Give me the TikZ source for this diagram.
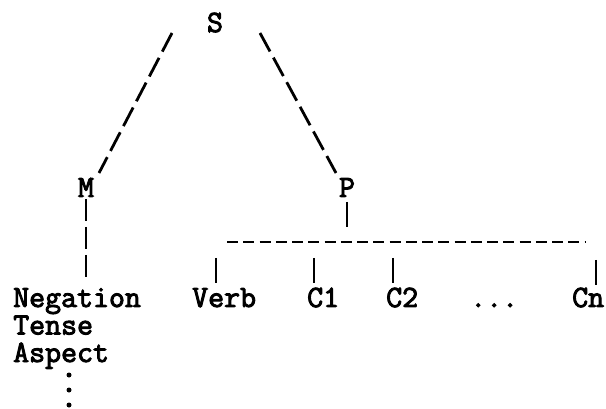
\documentclass[tikz,border=0pt]{standalone}
\usepackage{fontspec}
\setmonofont{Latin Modern Mono}[FakeBold=3]
\begin{document}
\begin{tikzpicture}[x=1pt,y=-1pt,
  lbl/.style={inner sep=0pt,font=\fontsize{31}{27.5}\selectfont\ttfamily},
  diag/.style={line width=2.8pt,dash pattern=on 21pt off 7pt},
  vert/.style={line width=2.8pt,dash pattern=on 22pt off 6pt},
  horiz/.style={line width=2.8pt,dash pattern=on 11pt off 5.25pt},
  tick/.style={line width=2.8pt},
  vdot/.style={circle,fill,inner sep=0pt,minimum size=5pt}]
\useasboundingbox (0,0) rectangle (606,409);
% labels
\node[lbl,anchor=base] (S) at (215,32) {S};
\node[lbl,anchor=base] (M) at (86,197) {M};
\node[lbl,anchor=base] (P) at (347,197) {P};
\node[lbl,anchor=base west,align=left] (feat) at (13,362) {Negation\\Tense\\Aspect};
\node[lbl,anchor=base west] (verb) at (192,307) {Verb};
\node[lbl,anchor=base west] (c1) at (307,307) {C1};
\node[lbl,anchor=base west] (c2) at (386,307) {C2};
\node[lbl,anchor=base west] (dots) at (470,307) {...};
\node[lbl,anchor=base west] (cn) at (572,307) {Cn};
\node[vdot] (d1) at (69,375) {};
\node[vdot] (d2) at (69,390) {};
\node[vdot] (d3) at (69,405) {};
% connector end points
\coordinate (sl) at (172,33);
\coordinate (ml) at (99,173);
\coordinate (sr) at (260,33);
\coordinate (pr) at (336,173);
\coordinate (mt) at (86,199);
\coordinate (mb) at (86,283);
\coordinate (pt) at (347,202);
\coordinate (pb) at (347,227);
\coordinate (hl) at (227,242);
\coordinate (hr) at (586,242);
\coordinate (vt) at (216,258);
\coordinate (vb) at (216,283);
\coordinate (c1t) at (314,258);
\coordinate (c1b) at (314,283);
\coordinate (c2t) at (393,258);
\coordinate (c2b) at (393,283);
\coordinate (cnt) at (596,260);
\coordinate (cnb) at (596,285);
% connectors
\draw[diag] (sl) -- (ml);
\draw[diag] (sr) -- (pr);
\draw[vert] (mt) -- (mb);
\draw[tick] (pt) -- (pb);
\draw[horiz] (hl) -- (hr);
\draw[tick] (vt) -- (vb);
\draw[tick] (c1t) -- (c1b);
\draw[tick] (c2t) -- (c2b);
\draw[tick] (cnt) -- (cnb);
\end{tikzpicture}
\end{document}
